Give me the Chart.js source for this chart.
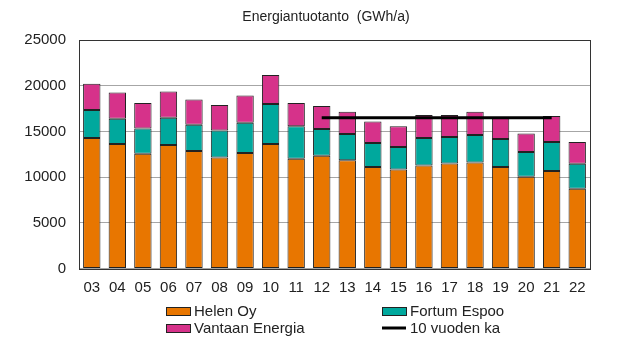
<!DOCTYPE html>
<html>
<head>
<meta charset="utf-8">
<script src="https://cdn.jsdelivr.net/npm/chart.js@4.4.0/dist/chart.umd.min.js"></script>
<style>
  html, body { margin: 0; padding: 0; background: #fff; }
  #wrap { width: 640px; height: 350px; position: relative; }
</style>
</head>
<body>
<div id="wrap"><canvas id="energyCanvas" width="640" height="350"></canvas></div>
<script>
    "use strict";

    // vuodet 2003-2022
    var years = ['03', '04', '05', '06', '07', '08', '09', '10', '11', '12',
                 '13', '14', '15', '16', '17', '18', '19', '20', '21', '22'];

    // GWh/a, luettu kuvasta
    var helen = [14270, 13610, 12560, 13500, 12850, 12150, 12630, 13610, 12010, 12340,
                 11830, 11100, 10840, 11280, 11500, 11610, 11100, 10040, 10660, 8720];
    var fortum = [3070, 2770, 2770, 2990, 2880, 2960, 3320, 4380, 3540, 2920,
                  2880, 2630, 2450, 2990, 2880, 2990, 3060, 2700, 3180, 2740];
    var vantaa = [2880, 2880, 2770, 2880, 2770, 2770, 2990, 3170, 2550, 2520,
                  2450, 2340, 2260, 2520, 2410, 2550, 2410, 2040, 2850, 2370];
    // 10 vuoden keskiarvo (12-21)
    var avg10 = [null, null, null, null, null, null, null, null, null, 16500,
                 16500, 16500, 16500, 16500, 16500, 16500, 16500, 16500, 16500, null];

    var yTicks = [0, 5000, 10000, 15000, 20000, 25000];

    var FONT = 'Liberation Sans, Arial, sans-serif';
    var TXT = '#222';

    var frameAndLegend = {
        id: 'frameAndLegend',
        afterDatasetsDraw: function (chart) {
            var ctx = chart.ctx;
            var a = chart.chartArea;
            ctx.save();
            ctx.strokeStyle = '#333';
            ctx.lineWidth = 1;
            ctx.strokeRect(Math.round(a.left) + 0.5, Math.round(a.top) + 0.5,
                Math.round(a.right - a.left), Math.round(a.bottom - a.top));
            ctx.restore();
        },
        afterDraw: function (chart) {
            var ctx = chart.ctx;
            ctx.save();
            // otsikko
            ctx.fillStyle = TXT;
            ctx.font = '14px ' + FONT;
            ctx.textAlign = 'center';
            ctx.textBaseline = 'middle';
            ctx.fillText('Energiantuotanto  (GWh/a)', 326, 17);

            // selite
            var items = [
                { ds: 0, x: 166, y: 311 },
                { ds: 1, x: 382, y: 311 },
                { ds: 2, x: 166, y: 328 },
                { ds: 3, x: 382, y: 328 }
            ];
            ctx.font = '15px ' + FONT;
            ctx.textAlign = 'left';
            items.forEach(function (it) {
                var d = chart.data.datasets[it.ds];
                if (d.type === 'line') {
                    ctx.strokeStyle = '#000';
                    ctx.lineWidth = 3;
                    ctx.beginPath();
                    ctx.moveTo(it.x, it.y);
                    ctx.lineTo(it.x + 24, it.y);
                    ctx.stroke();
                } else {
                    ctx.fillStyle = d.backgroundColor;
                    ctx.fillRect(it.x, it.y - 4, 24, 8);
                    ctx.strokeStyle = '#222';
                    ctx.lineWidth = 1;
                    ctx.strokeRect(it.x + 0.5, it.y - 3.5, 24, 8);
                }
                ctx.fillStyle = TXT;
                ctx.fillText(d.label, it.x + 28, it.y + 1);
            });
            ctx.restore();
        }
    };

    var ctx = document.getElementById('energyCanvas').getContext('2d');
    new Chart(ctx, {
        type: 'bar',
        data: {
            labels: years,
            datasets: [
                { label: 'Helen Oy', data: helen, backgroundColor: 'rgb(232,118,0)',
                  borderColor: '#222', borderWidth: 1, borderSkipped: false,
                  stack: 'tuotanto', order: 1 },
                { label: 'Fortum Espoo', data: fortum, backgroundColor: 'rgb(0,168,157)',
                  borderColor: '#222', borderWidth: 1, borderSkipped: false,
                  stack: 'tuotanto', order: 1 },
                { label: 'Vantaan Energia', data: vantaa, backgroundColor: 'rgb(214,50,138)',
                  borderColor: '#222', borderWidth: 1, borderSkipped: false,
                  stack: 'tuotanto', order: 1 },
                { type: 'line', label: '10 vuoden ka', data: avg10, borderColor: '#000',
                  borderWidth: 3, pointRadius: 0, fill: false, stack: 'ka', order: 0,
                  spanGaps: false }
            ]
        },
        options: {
            responsive: false,
            animation: false,
            layout: { padding: { left: 0, right: 50, top: 40, bottom: 0 } },
            datasets: { bar: { categoryPercentage: 1, barPercentage: 0.68 } },
            plugins: {
                legend: { display: false },
                title: { display: false },
                tooltip: { enabled: false }
            },
            scales: {
                x: {
                    stacked: true,
                    grid: { display: false, drawTicks: false },
                    border: { display: false },
                    ticks: { color: TXT, font: { family: FONT, size: 15 }, padding: 10,
                             maxRotation: 0, autoSkip: false },
                    afterFit: function (s) { s.height = 81.5; }
                },
                y: {
                    stacked: true,
                    min: 0,
                    max: 25000,
                    afterBuildTicks: function (s) {
                        s.ticks = yTicks.map(function (v) { return { value: v }; });
                    },
                    grid: { color: '#a6a6a6', lineWidth: 1, drawTicks: false },
                    border: { display: false },
                    ticks: { color: TXT, font: { family: FONT, size: 15 }, padding: 13,
                             callback: function (v) { return String(v); } },
                    afterFit: function (s) { s.width = 79; }
                }
            }
        },
        plugins: [frameAndLegend]
    });
</script>
</body>
</html>
